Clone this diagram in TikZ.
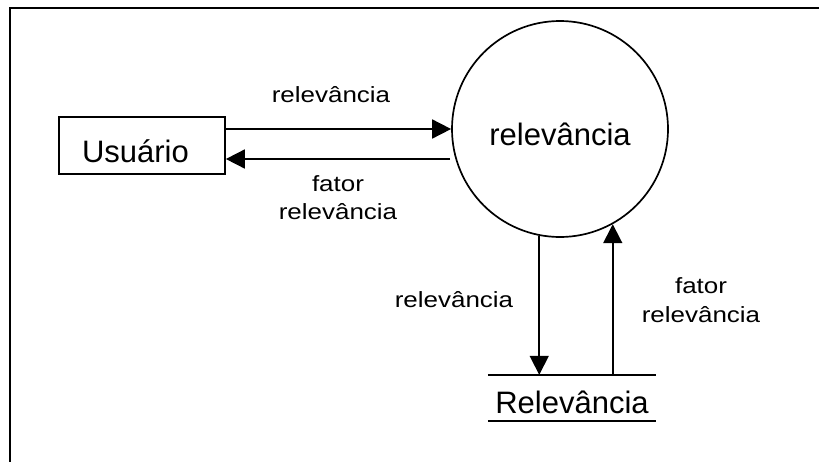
\documentclass[tikz,border=0pt]{standalone}
\usepackage{fontspec}
\setmainfont{Liberation Sans}
\usetikzlibrary{arrows.meta}
% labels on the flows are set slightly wider than their height
\newcommand\flowtxt[1]{\scalebox{1.18}[1]{#1}}
\begin{document}
\begin{tikzpicture}[x=1pt,y=-1pt,
  frame/.style={line width=2.2pt},
  edge/.style={line width=1.7pt},
  flow/.style={edge,-{Triangle[length=19pt,width=19pt]}},
  bigtxt/.style={font=\fontsize{31}{36}\selectfont},
  flowlbl/.style={font=\fontsize{22}{28.5}\selectfont,align=center,anchor=base,inner sep=0pt},
  entity/.style={draw,edge,bigtxt,minimum height=57pt,text width=120pt,inner xsep=23pt,inner ysep=0pt,align=left,text height=33pt,text depth=0pt},
  process/.style={draw,edge,circle,bigtxt,minimum size=216pt,inner sep=0pt,text height=32pt,text depth=0pt},
  datastore/.style={bigtxt,minimum width=168pt,minimum height=46pt,inner sep=0pt,text height=30pt,text depth=0pt}]
\useasboundingbox (0,0) rectangle (819,461);

% page frame
\draw[frame] (10,470) -- (10,8) -- (830,8);

% external entity, process and data store
\node[entity] (usr) at (142,145.5) {Usuário};
\node[process] (proc) at (560,129) {relevância};
\node[datastore] (store) at (572,398) {Relevância};
\draw[edge] (store.north west) -- (store.north east);
\draw[edge] (store.south west) -- (store.south east);

% flows between the user and the process
\coordinate (back) at (450,159);
\draw[flow] (usr.east |- proc.west) -- (proc.west);
\draw[flow] (back) -- (usr.east |- back);

% flows between the process and the data store
\coordinate (down) at (proc.-101.6);
\coordinate (up) at (proc.-61.2);
\draw[flow] (down) -- (down |- store.north);
\draw[flow] (up |- store.north) -- (up);

% flow labels (anchored on the baseline of their last line)
\node[flowlbl] (l1) at (331,102) {\flowtxt{relevância}};
\node[flowlbl] (l2) at (338,219.5) {\flowtxt{fator}\\\flowtxt{relevância}};
\node[flowlbl] (l3) at (454,307) {\flowtxt{relevância}};
\node[flowlbl] (l4) at (701,322) {\flowtxt{fator}\\\flowtxt{relevância}};
\end{tikzpicture}
\end{document}
